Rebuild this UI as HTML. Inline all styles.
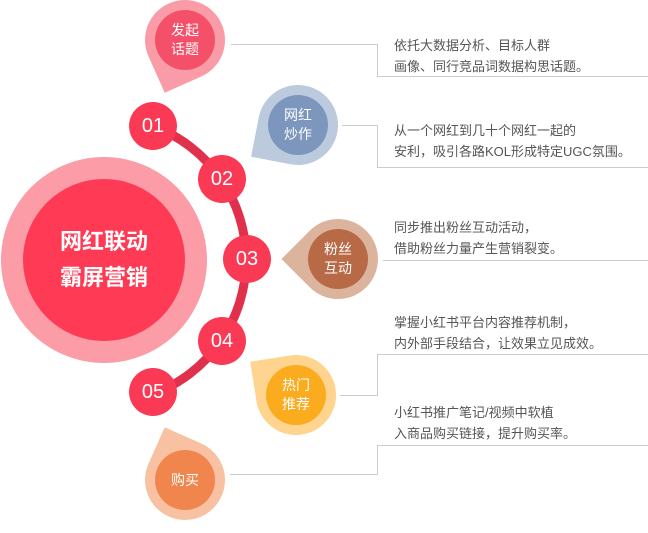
<!DOCTYPE html>
<html><head><meta charset="utf-8"><style>
body{margin:0;width:648px;height:525px;background:#fff;position:relative;overflow:hidden;font-family:"Liberation Sans","Noto Sans CJK SC",sans-serif}
.a{position:absolute}
.pin{position:absolute;width:80px;height:80px;border-radius:50%;border-bottom-left-radius:0}
.in{position:absolute;width:60px;height:60px;border-radius:50%;color:#fff;font-size:14px;line-height:19px;display:flex;align-items:center;justify-content:center;text-align:center}
.num{position:absolute;width:48px;height:48px;border-radius:50%;background:#fa3a55;color:#fff;font-size:20px;line-height:48px;text-align:center}
.t{position:absolute;left:394px;font-size:13px;color:#555;line-height:20.5px;white-space:nowrap}
.h{position:absolute;height:1px;background:#ccc}.v{position:absolute;width:1px;background:#ccc}
</style></head><body>
<svg class="a" style="left:0;top:0" width="648" height="525">
<path d="M153 126 A143 143 0 0 1 153 394" fill="none" stroke="#e0304c" stroke-width="9"/>
</svg>
<div class="a" style="left:1px;top:157px;width:206px;height:206px;border-radius:50%;background:#fb9ca6"></div>
<div class="a" style="left:23px;top:179px;width:162px;height:162px;border-radius:50%;background:#fe3a55;color:#fff;font-weight:bold;font-size:22px;line-height:36px;display:flex;align-items:center;justify-content:center;text-align:center">网红联动<br>霸屏营销</div>
<div class="num" style="left:129px;top:102px">01</div>
<div class="num" style="left:198px;top:155px">02</div>
<div class="num" style="left:223px;top:235px">03</div>
<div class="num" style="left:198px;top:317px">04</div>
<div class="num" style="left:129px;top:368px">05</div>

<div class="pin" style="left:145px;top:0px;background:#f99ca7;transform:rotate(-24deg)"></div>
<div class="in" style="left:155px;top:10px;background:#f5506a">发起<br>话题</div>
<div class="pin" style="left:258px;top:85px;background:#bccadd;transform:rotate(11deg)"></div>
<div class="in" style="left:268px;top:95px;background:#7c96bd">网红<br>炒作</div>
<div class="pin" style="left:298px;top:219px;background:#dcb49e;transform:rotate(45deg)"></div>
<div class="in" style="left:308px;top:229px;background:#b86a47">粉丝<br>互动</div>
<div class="pin" style="left:256px;top:355px;background:#fed48e;transform:rotate(81deg)"></div>
<div class="in" style="left:266px;top:365px;background:#fbab1e">热门<br>推荐</div>
<div class="pin" style="left:145px;top:440px;background:#f8c2a2;transform:rotate(114deg)"></div>
<div class="in" style="left:155px;top:450px;background:#f0854e">购买</div>

<div class="h" style="left:231px;top:44px;width:147px"></div><div class="v" style="left:377px;top:44px;height:32px"></div><div class="h" style="left:377px;top:76px;width:271px"></div>
<div class="h" style="left:342px;top:125px;width:36px"></div><div class="v" style="left:377px;top:125px;height:42px"></div><div class="h" style="left:377px;top:167px;width:271px"></div>
<div class="h" style="left:383px;top:260px;width:265px"></div>
<div class="h" style="left:378px;top:354px;width:270px"></div><div class="v" style="left:377px;top:354px;height:42px"></div><div class="h" style="left:340px;top:395px;width:38px"></div>
<div class="h" style="left:378px;top:445px;width:270px"></div><div class="v" style="left:377px;top:445px;height:30px"></div><div class="h" style="left:230px;top:474px;width:148px"></div>

<div class="t" style="top:36px">依托大数据分析、目标人群<br>画像、同行竞品词数据构思话题。</div>
<div class="t" style="top:121px">从一个网红到几十个网红一起的<br>安利，吸引各路KOL形成特定UGC氛围。</div>
<div class="t" style="top:218px">同步推出粉丝互动活动，<br>借助粉丝力量产生营销裂变。</div>
<div class="t" style="top:313px">掌握小红书平台内容推荐机制，<br>内外部手段结合，让效果立见成效。</div>
<div class="t" style="top:403px">小红书推广笔记/视频中软植<br>入商品购买链接，提升购买率。</div>
</body></html>
